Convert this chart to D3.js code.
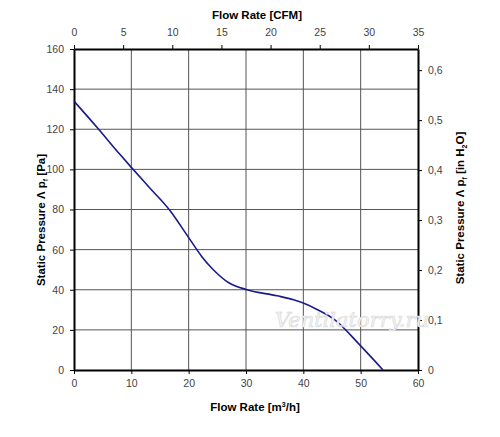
<!DOCTYPE html>
<html>
<head>
<meta charset="utf-8">
<script src="https://cdn.jsdelivr.net/npm/d3@7"></script>
<style>
  body { margin: 0; background: #fff; }
  text { font-family: Arial, "Liberation Sans", sans-serif; }
</style>
</head>
<body>
<div id="chart"></div>
<script>
// Fan curve: flow rate in m3/h vs static pressure in Pa
const flowM3h = [0, 4, 8, 10, 13.3, 16.6, 20, 22.3, 24.3, 27, 30.2, 35.4, 38.3, 40.3, 42.3, 45.5, 50, 53.9];
const pressurePa = [134, 121, 107.5, 101, 90.5, 80, 66, 56.5, 50, 43.5, 40, 37, 35, 33, 30.3, 25, 12, 0];

const bottomTicks = [0, 10, 20, 30, 40, 50, 60];
const topTicks = [0, 5, 10, 15, 20, 25, 30, 35];
const leftTicks = [0, 20, 40, 60, 80, 100, 120, 140, 160];
const rightTicks = [0, 0.1, 0.2, 0.3, 0.4, 0.5, 0.6];

const width = 500, height = 437;
const margin = {top: 49, right: 82, bottom: 67, left: 74};
const innerW = width - margin.left - margin.right;
const innerH = height - margin.top - margin.bottom;

const svg = d3.select("#chart").append("svg")
  .attr("width", width)
  .attr("height", height);

const g = svg.append("g")
  .attr("transform", `translate(${margin.left},${margin.top})`);

const x = d3.scaleLinear().domain([0, 60]).range([0, innerW]);
const xTop = d3.scaleLinear().domain([0, 35]).range([0, innerW]);
const y = d3.scaleLinear().domain([0, 160]).range([innerH, 0]);
const yRight = d3.scaleLinear().domain([0, 160 / 249.1]).range([innerH, 0]);

// grid
g.append("g")
  .selectAll("line")
  .data(bottomTicks.slice(1, -1))
  .enter().append("line")
  .attr("x1", d => x(d)).attr("x2", d => x(d))
  .attr("y1", 0).attr("y2", innerH)
  .attr("stroke", "#555").attr("stroke-width", 1);

g.append("g")
  .selectAll("line")
  .data(leftTicks.slice(1, -1))
  .enter().append("line")
  .attr("x1", 0).attr("x2", innerW)
  .attr("y1", d => y(d)).attr("y2", d => y(d))
  .attr("stroke", "#555").attr("stroke-width", 1);

// axes
const styleAxis = sel => {
  sel.select(".domain").attr("stroke", "#000").attr("stroke-width", 2);
  sel.selectAll(".tick line").attr("stroke", "#000");
  sel.selectAll(".tick text").attr("fill", "#444").style("font-size", "10.5px");
};

g.append("g")
  .attr("transform", `translate(0,${innerH})`)
  .call(d3.axisBottom(x).tickValues(bottomTicks).tickSize(4).tickSizeOuter(0).tickPadding(6))
  .call(styleAxis);

g.append("g")
  .call(d3.axisTop(xTop).tickValues(topTicks).tickSize(4).tickSizeOuter(0).tickPadding(9))
  .call(styleAxis);

g.append("g")
  .call(d3.axisLeft(y).tickValues(leftTicks).tickSize(4).tickSizeOuter(0).tickPadding(6))
  .call(styleAxis);

g.append("g")
  .attr("transform", `translate(${innerW},0)`)
  .call(d3.axisRight(yRight).tickValues(rightTicks).tickSize(4).tickSizeOuter(0).tickPadding(6)
    .tickFormat(d => d === 0 ? "0" : d3.format(".1f")(d).replace(".", ",")))
  .call(styleAxis);

// watermark
svg.append("text")
  .attr("x", 352).attr("y", 327)
  .attr("text-anchor", "middle")
  .style("font-family", "'DejaVu Serif', serif")
  .style("font-style", "italic")
  .style("font-size", "21px")
  .attr("fill", "#f4f4f4")
  .attr("stroke", "#d8d8d8")
  .attr("stroke-width", 0.6)
  .text("Ventilatorry.ru");

// curve
const line = d3.line()
  .x((d, i) => x(flowM3h[i]))
  .y(d => y(d))
  .curve(d3.curveMonotoneX);

g.append("path")
  .datum(pressurePa)
  .attr("fill", "none")
  .attr("stroke", "#1a1a8c")
  .attr("stroke-width", 1.6)
  .attr("d", line);

// titles
svg.append("text")
  .attr("x", 257).attr("y", 19)
  .attr("text-anchor", "middle")
  .style("font-size", "11.5px").style("font-weight", "bold")
  .text("Flow Rate [CFM]");

const bt = svg.append("text")
  .attr("x", 255).attr("y", 411)
  .attr("text-anchor", "middle")
  .style("font-size", "11.5px").style("font-weight", "bold")
  .text("Flow Rate [m");
bt.append("tspan").attr("dy", -4).style("font-size", "7px").text("3");
bt.append("tspan").attr("dy", 4).text("/h]");

const lt = svg.append("text")
  .attr("transform", "translate(45,220) rotate(-90)")
  .attr("text-anchor", "middle")
  .style("font-size", "11.5px").style("font-weight", "bold")
  .text("Static Pressure Λ p");
lt.append("tspan").attr("dy", 3).style("font-size", "7px").text("f");
lt.append("tspan").attr("dy", -3).text(" [Pa]");

const rt = svg.append("text")
  .attr("transform", "translate(464,208) rotate(-90)")
  .attr("text-anchor", "middle")
  .style("font-size", "11.5px").style("font-weight", "bold")
  .text("Static Pressure Λ p");
rt.append("tspan").attr("dy", 3).style("font-size", "7px").text("f");
rt.append("tspan").attr("dy", -3).text(" [in H");
rt.append("tspan").attr("dy", 3).style("font-size", "7px").text("2");
rt.append("tspan").attr("dy", -3).text("O]");
</script>
</body>
</html>
